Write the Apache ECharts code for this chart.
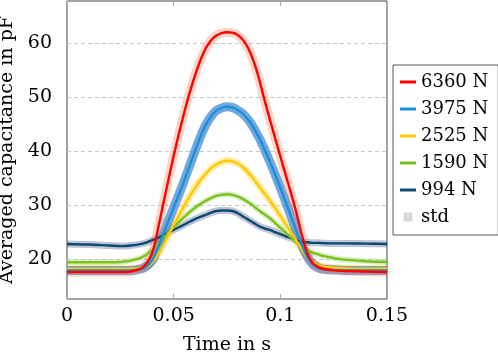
<!DOCTYPE html>
<html>
<head>
<meta charset="utf-8">
<script src="https://cdn.jsdelivr.net/npm/echarts@6/dist/echarts.min.js"></script>
<style>
  html, body { margin: 0; padding: 0; background: #fff; }
  #chart { width: 498px; height: 355px; }
</style>
</head>
<body>
<div id="chart"></div>
<script>
// time in s (finer steps around the rise and fall)
const time = [0, 0.01, 0.02, 0.025, 0.03, 0.035, 0.0375, 0.04, 0.0425, 0.045, 0.0475, 0.05, 0.0525, 0.055, 0.0575, 0.06,
  0.0625, 0.065, 0.0675, 0.07, 0.0725, 0.075, 0.0775, 0.08, 0.0825, 0.085, 0.0875, 0.09, 0.0925, 0.095, 0.0975, 0.1,
  0.1025, 0.105, 0.1075, 0.11, 0.1125, 0.115, 0.1175, 0.12, 0.125, 0.13, 0.14, 0.15];

// averaged capacitance in pF
const cap6360 = [17.6, 17.6, 17.6, 17.6, 17.7, 18.3, 19.3, 21.2, 25.3, 30.0, 34.6, 39.1, 43.3, 47.2, 50.8, 54.0,
  56.8, 59.0, 60.5, 61.4, 61.85, 62.0, 61.95, 61.5, 60.6, 59.0, 56.6, 53.4, 49.6, 46.0, 42.5, 39.0,
  35.6, 32.2, 28.6, 24.6, 21.2, 19.3, 18.6, 18.2, 17.9, 17.8, 17.7, 17.6];
const cap3975 = [17.9, 17.9, 17.9, 17.9, 17.9, 18.2, 18.7, 19.8, 22.0, 24.5, 27.0, 29.5, 32.0, 34.6, 37.3, 40.0,
  42.6, 44.8, 46.4, 47.5, 48.0, 48.2, 48.1, 47.6, 46.9, 45.8, 44.3, 42.5, 40.4, 38.1, 35.7, 33.2,
  30.6, 27.9, 25.2, 22.7, 20.5, 19.1, 18.4, 18.1, 18.0, 17.9, 17.9, 17.9];
const cap2525 = [18.2, 18.2, 18.2, 18.2, 18.2, 18.3, 18.6, 19.4, 20.8, 22.5, 24.4, 26.3, 28.1, 29.9, 31.6, 33.2,
  34.6, 35.8, 36.8, 37.5, 38.0, 38.2, 38.1, 37.7, 37.0, 36.0, 34.8, 33.5, 32.2, 30.9, 29.5, 28.0,
  26.5, 25.0, 23.4, 21.8, 20.4, 19.5, 18.9, 18.6, 18.4, 18.3, 18.2, 18.2];
const cap1590 = [19.4, 19.4, 19.4, 19.45, 19.7, 20.3, 20.9, 21.7, 22.7, 23.8, 24.9, 25.9, 26.9, 27.8, 28.7, 29.5,
  30.2, 30.8, 31.3, 31.7, 31.9, 32.0, 31.9, 31.6, 31.1, 30.5, 29.8, 29.0, 28.3, 27.6, 26.7, 25.8,
  24.9, 24.0, 23.1, 22.3, 21.7, 21.2, 20.9, 20.6, 20.2, 19.9, 19.6, 19.45];
const cap994 = [22.8, 22.7, 22.5, 22.4, 22.5, 22.8, 23.1, 23.5, 23.9, 24.4, 24.9, 25.4, 25.9, 26.4, 26.9, 27.4,
  27.8, 28.2, 28.6, 28.9, 29.0, 29.0, 28.9, 28.5, 27.9, 27.3, 26.7, 26.1, 25.7, 25.4, 25.0, 24.6,
  24.2, 23.9, 23.5, 23.2, 23.1, 23.0, 23.0, 22.95, 22.9, 22.9, 22.85, 22.8];

const forceNames = ["6360 N", "3975 N", "2525 N", "1590 N", "994 N"];
const forceValues = [cap6360, cap3975, cap2525, cap1590, cap994];
const yTicks = [20, 30, 40, 50, 60];

const LINE_COLORS = ["#ff0000", "#1a90d8", "#ffc800", "#7cc11b", "#0c4a6e"];
const STD_COLORS = [
  "rgba(244,120,90,0.33)",
  "rgba(40,120,205,0.65)",
  "rgba(255,210,60,0.45)",
  "rgba(150,205,90,0.33)",
  "rgba(60,72,135,0.32)",
];
const STD_WIDTH = [9, 9, 7, 6, 7];
const FONT = "DejaVu Serif";

const pairs = (vals) => time.map((t, i) => [t, vals[i]]);

// bands first, then lines; smallest force drawn first so red ends on top
const order = [4, 3, 2, 1, 0];
const series = [];
order.forEach((k) => {
  series.push({
    name: "std",
    type: "line",
    data: pairs(forceValues[k]),
    symbol: "none",
    smooth: 0.35,
    silent: true,
    z: 1,
    lineStyle: { color: STD_COLORS[k], width: STD_WIDTH[k], cap: "butt", join: "round" },
    itemStyle: { color: STD_COLORS[k] },
  });
});
order.forEach((k) => {
  series.push({
    name: forceNames[k],
    type: "line",
    data: pairs(forceValues[k]),
    symbol: "none",
    smooth: 0.35,
    z: 3,
    lineStyle: { color: LINE_COLORS[k], width: 2.4, cap: "butt" },
    itemStyle: { color: LINE_COLORS[k] },
  });
});

const LINE_ICON = "path://M0,0h16v3h-16z";

const option = {
  animation: false,
  backgroundColor: "#fff",
  textStyle: { fontFamily: FONT, color: "#000", fontWeight: "normal" },
  grid: {
    left: 67,
    right: 111,
    top: 1,
    bottom: 56,
    outerBoundsMode: "none",
    containLabel: false,
    show: true,
    borderColor: "#444",
    borderWidth: 1,
    backgroundColor: "transparent",
  },
  legend: {
    orient: "vertical",
    left: 393,
    top: 65,
    padding: [8, 10, 9, 7],
    itemGap: 9,
    itemWidth: 16,
    itemHeight: 9,
    borderColor: "#555",
    borderWidth: 1,
    backgroundColor: "#fff",
    textStyle: { fontFamily: FONT, fontSize: 18, color: "#000", fontWeight: "normal" },
    data: forceNames
      .map((n, i) => ({ name: n, icon: LINE_ICON, itemStyle: { color: LINE_COLORS[i] } }))
      .concat([{ name: "std", icon: "path://M0,0h10v10h-10z", itemStyle: { color: "#d9d9d9" } }]),
  },
  xAxis: [
    {
      type: "value",
      min: 0,
      max: 0.15,
      interval: 0.05,
      name: "Time in s",
      nameLocation: "middle",
      nameGap: 37,
      nameTextStyle: { fontFamily: FONT, fontSize: 19, color: "#000", fontWeight: "normal" },
      axisLine: { show: false },
      axisTick: { show: true, inside: true, length: 5, lineStyle: { color: "#aaa" } },
      axisLabel: { fontFamily: FONT, fontSize: 19, color: "#000", margin: 8 },
      splitLine: { show: false },
    },
    {
      type: "value",
      position: "top",
      min: 0,
      max: 0.15,
      interval: 0.05,
      axisLine: { show: false },
      axisTick: { show: true, inside: true, length: 5, lineStyle: { color: "#aaa" } },
      axisLabel: { show: false },
      splitLine: { show: false },
    },
  ],
  yAxis: {
    type: "value",
    min: 12.6,
    max: 67.8,
    splitNumber: 5,
    name: "Averaged capacitance in pF",
    nameLocation: "middle",
    nameGap: 47,
    nameTextStyle: { fontFamily: FONT, fontSize: 19, color: "#000", fontWeight: "normal" },
    axisLine: { show: false },
    axisTick: { show: false },
    axisLabel: {
      fontFamily: FONT,
      fontSize: 19,
      color: "#000",
      margin: 15,
      showMinLabel: false,
      showMaxLabel: false,
      formatter: (v) => (yTicks.indexOf(Math.round(v * 10) / 10) >= 0 ? String(v) : ""),
    },
    splitLine: {
      show: true,
      showMinLine: false,
      showMaxLine: false,
      lineStyle: { type: [4, 3], color: "#c8c8c8", width: 1 },
    },
  },
  series: series,
};

const chart = echarts.init(document.getElementById("chart"), null, { renderer: "canvas" });
chart.setOption(option);
</script>
</body>
</html>
